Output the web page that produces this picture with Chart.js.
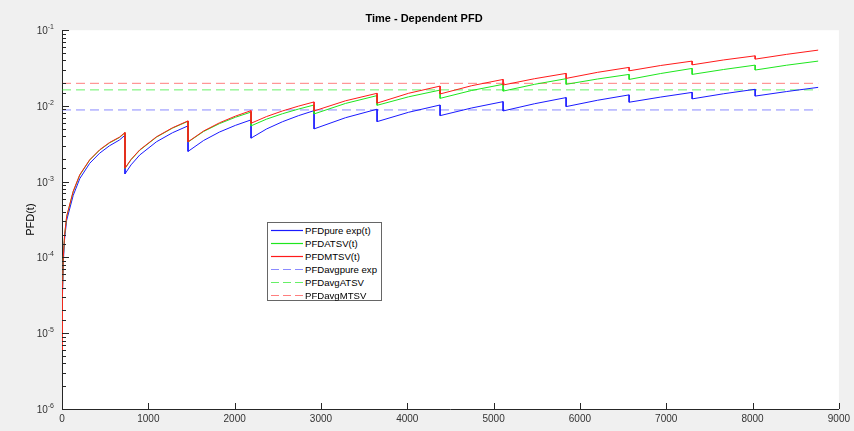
<!DOCTYPE html>
<html>
<head>
<meta charset="utf-8">
<script src="https://cdn.jsdelivr.net/npm/chart.js@4.4.1/dist/chart.umd.min.js"></script>
<style>
  html, body { margin: 0; padding: 0; background: #f0f0f0; }
  #wrap { position: relative; width: 854px; height: 431px; }
  #legend {
    position: absolute; left: 267px; top: 222px; width: 113px; height: 77px;
    background: #fff; border: 1px solid #666;
    font-family: "Liberation Sans", Arial, sans-serif; font-size: 9.6px; color: #000;
  }
  .row { position: absolute; left: 0; height: 13px; line-height: 13px; white-space: nowrap; }
  .row svg { position: absolute; left: 3px; top: 0; }
  .row span { position: absolute; left: 37px; top: 0; }
</style>
</head>
<body>
<div id="wrap">
  <canvas id="pfdChart"></canvas>
  <div id="legend"></div>
</div>
<script>
// time in hours, vertical drops are repeated hours
const hours = [
  0, 5, 15, 30, 54, 130, 206, 321, 436, 550, 665, 730,
  730, 800, 900, 1095, 1280, 1460,
  1460, 1640, 1825, 2010, 2190,
  2190, 2370, 2555, 2740, 2920,
  2920, 3285, 3650,
  3650, 4015, 4380,
  4380, 4745, 5110,
  5110, 5475, 5840,
  5840, 6205, 6570,
  6570, 6935, 7300,
  7300, 7665, 8030,
  8030, 8395, 8760
];

const pfdPure = [
  6e-6, 3.0e-5, 8.5e-5, 1.75e-4, 3.1e-4, 6.6e-4, 1.1e-3, 1.75e-3, 2.38e-3, 2.98e-3, 3.55e-3, 4.11e-3,
  1.27e-3, 1.67e-3, 2.25e-3, 3.37e-3, 4.43e-3, 5.46e-3,
  2.51e-3, 3.5e-3, 4.53e-3, 5.55e-3, 6.55e-3,
  3.76e-3, 4.97e-3, 6.2e-3, 7.45e-3, 8.67e-3,
  4.98e-3, 7.0e-3, 9.06e-3,
  6.21e-3, 8.25e-3, 1.03e-2,
  7.45e-3, 9.4e-3, 1.14e-2,
  8.59e-3, 1.07e-2, 1.29e-2,
  9.8e-3, 1.19e-2, 1.4e-2,
  1.12e-2, 1.31e-2, 1.51e-2,
  1.24e-2, 1.45e-2, 1.66e-2,
  1.35e-2, 1.55e-2, 1.76e-2
];

const pfdATSV = [
  6e-6, 3.4e-5, 9.8e-5, 1.95e-4, 3.45e-4, 7.4e-4, 1.22e-3, 1.93e-3, 2.61e-3, 3.25e-3, 3.83e-3, 4.42e-3,
  1.5e-3, 1.95e-3, 2.6e-3, 3.88e-3, 5.1e-3, 6.28e-3,
  3.34e-3, 4.6e-3, 5.85e-3, 7.1e-3, 8.3e-3,
  5.46e-3, 6.7e-3, 7.9e-3, 9.1e-3, 1.03e-2,
  7.85e-3, 1.08e-2, 1.37e-2,
  1.02e-2, 1.32e-2, 1.62e-2,
  1.26e-2, 1.6e-2, 1.93e-2,
  1.57e-2, 1.93e-2, 2.29e-2,
  1.93e-2, 2.27e-2, 2.61e-2,
  2.24e-2, 2.68e-2, 3.13e-2,
  2.61e-2, 3.03e-2, 3.46e-2,
  2.98e-2, 3.45e-2, 3.91e-2
];

const pfdMTSV = [
  6e-6, 3.5e-5, 1.0e-4, 2.0e-4, 3.5e-4, 7.5e-4, 1.24e-3, 1.95e-3, 2.64e-3, 3.29e-3, 3.87e-3, 4.46e-3,
  1.51e-3, 1.97e-3, 2.63e-3, 3.92e-3, 5.15e-3, 6.35e-3,
  3.36e-3, 4.67e-3, 6.0e-3, 7.35e-3, 8.67e-3,
  5.91e-3, 7.25e-3, 8.6e-3, 9.95e-3, 1.13e-2,
  8.59e-3, 1.17e-2, 1.47e-2,
  1.09e-2, 1.47e-2, 1.83e-2,
  1.44e-2, 1.85e-2, 2.24e-2,
  1.89e-2, 2.29e-2, 2.69e-2,
  2.31e-2, 2.78e-2, 3.23e-2,
  2.91e-2, 3.42e-2, 3.91e-2,
  3.49e-2, 4.05e-2, 4.59e-2,
  4.15e-2, 4.8e-2, 5.46e-2
];

// averaged PFD over the mission time
const avgSpan = [0, 8760];
const avgPure = 8.86e-3;
const avgATSV = 1.63e-2;
const avgMTSV = 1.99e-2;

const seriesNames = [
  "PFDpure exp(t)", "PFDATSV(t)", "PFDMTSV(t)",
  "PFDavgpure exp", "PFDavgATSV", "PFDavgMTSV"
];
const seriesColors = ["#1a1aff", "#1ee61e", "#ff1a1a", "rgba(60,60,255,0.6)", "rgba(0,230,0,0.6)", "rgba(255,40,40,0.6)"];

const FONT = "'Liberation Sans', Arial, sans-serif";

function isDecade(v) {
  const l = Math.log10(v);
  return Math.abs(l - Math.round(l)) < 1e-6;
}

const pts = (ys) => hours.map((h, i) => ({ x: h, y: ys[i] }));
const flat = (v) => avgSpan.map(h => ({ x: h, y: v }));

const axesPlugin = {
  id: "axesLook",
  beforeDraw(chart) {
    const { ctx, chartArea: a } = chart;
    ctx.save();
    ctx.fillStyle = "#f0f0f0";
    ctx.fillRect(0, 0, chart.width, chart.height);
    ctx.fillStyle = "#fff";
    ctx.fillRect(a.left, a.top, a.right - a.left, a.bottom - a.top);
    ctx.restore();
  },
  afterDraw(chart) {
    // MATLAB style ticks pointing into the axes
    const { ctx, chartArea: a, scales } = chart;
    ctx.save();
    ctx.strokeStyle = "#262626";
    ctx.lineWidth = 1;
    ctx.beginPath();
    scales.x.ticks.forEach(t => {
      const px = Math.round(scales.x.getPixelForValue(t.value)) + 0.5;
      ctx.moveTo(px, a.bottom);
      ctx.lineTo(px, a.bottom - 6);
    });
    scales.y.ticks.forEach(t => {
      const py = Math.round(scales.y.getPixelForValue(t.value)) + 0.5;
      ctx.moveTo(a.left, py);
      ctx.lineTo(a.left + (isDecade(t.value) ? 7 : 4), py);
    });
    ctx.stroke();

    // power of ten labels with a raised exponent
    ctx.fillStyle = "#333";
    ctx.textBaseline = "alphabetic";
    scales.y.ticks.forEach(t => {
      if (!isDecade(t.value)) return;
      const py = scales.y.getPixelForValue(t.value);
      const exp = String(Math.round(Math.log10(t.value)));
      ctx.font = "7px " + FONT;
      ctx.textAlign = "right";
      const right = a.left - 8;
      ctx.fillText(exp, right, py - 1);
      const ew = ctx.measureText(exp).width;
      ctx.font = "10px " + FONT;
      ctx.fillText("10", right - ew, py + 4);
    });
    ctx.restore();
  }
};

const ctx = document.getElementById("pfdChart").getContext("2d");
new Chart(ctx, {
  type: "line",
  data: {
    datasets: [
      { label: seriesNames[0], data: pts(pfdPure), borderColor: seriesColors[0], order: 2 },
      { label: seriesNames[1], data: pts(pfdATSV), borderColor: seriesColors[1], order: 1 },
      { label: seriesNames[2], data: pts(pfdMTSV), borderColor: seriesColors[2], order: 0 },
      { label: seriesNames[3], data: flat(avgPure), borderColor: seriesColors[3], borderDash: [9, 5], order: 3 },
      { label: seriesNames[4], data: flat(avgATSV), borderColor: seriesColors[4], borderDash: [9, 5], order: 4 },
      { label: seriesNames[5], data: flat(avgMTSV), borderColor: seriesColors[5], borderDash: [9, 5], order: 5 },
    ],
  },
  options: {
    responsive: true,
    maintainAspectRatio: false,
    animation: false,
    elements: {
      point: { radius: 0 },
      line: { borderWidth: 1, tension: 0, fill: false },
    },
    layout: { padding: { left: 0, right: 6, top: 0, bottom: 0 } },
    plugins: {
      legend: { display: false },
      tooltip: { enabled: false },
      title: {
        display: true,
        text: "Time - Dependent PFD",
        color: "#000",
        font: { family: FONT, size: 11, weight: "bold" },
        padding: { top: 12, bottom: 5 },
      },
    },
    scales: {
      x: {
        type: "linear",
        min: 0,
        max: 9000,
        ticks: {
          stepSize: 1000,
          color: "#333",
          font: { family: FONT, size: 10 },
          maxRotation: 0,
          padding: 4,
          callback: (v) => String(v),
        },
        grid: { display: false, drawTicks: false },
        border: { display: true, color: "#262626" },
        afterFit: (s) => { s.height = 22; },
      },
      y: {
        type: "logarithmic",
        min: 1e-6,
        max: 1e-1,
        title: {
          display: true,
          text: "PFD(t)",
          color: "#000",
          font: { family: FONT, size: 11 },
          padding: { top: 24, bottom: 0 },
        },
        ticks: {
          autoSkip: false,
          callback: () => "",
        },
        grid: { display: false, drawTicks: false },
        border: { display: true, color: "#262626" },
        afterFit: (s) => { s.width = 62; },
      },
    },
  },
  plugins: [axesPlugin],
});

// legend placed inside the axes like the original
const legend = document.getElementById("legend");
seriesNames.forEach((name, i) => {
  const row = document.createElement("div");
  row.className = "row";
  row.style.top = (1 + i * 13) + "px";
  row.style.width = "110px";
  const dash = i >= 3 ? 'stroke-dasharray="8 4"' : "";
  row.innerHTML =
    '<svg width="32" height="13"><line x1="0" y1="6.5" x2="32" y2="6.5" stroke="' +
    seriesColors[i] + '" stroke-width="1.2" ' + dash + '/></svg><span>' + name + "</span>";
  legend.appendChild(row);
});
</script>
</body>
</html>
